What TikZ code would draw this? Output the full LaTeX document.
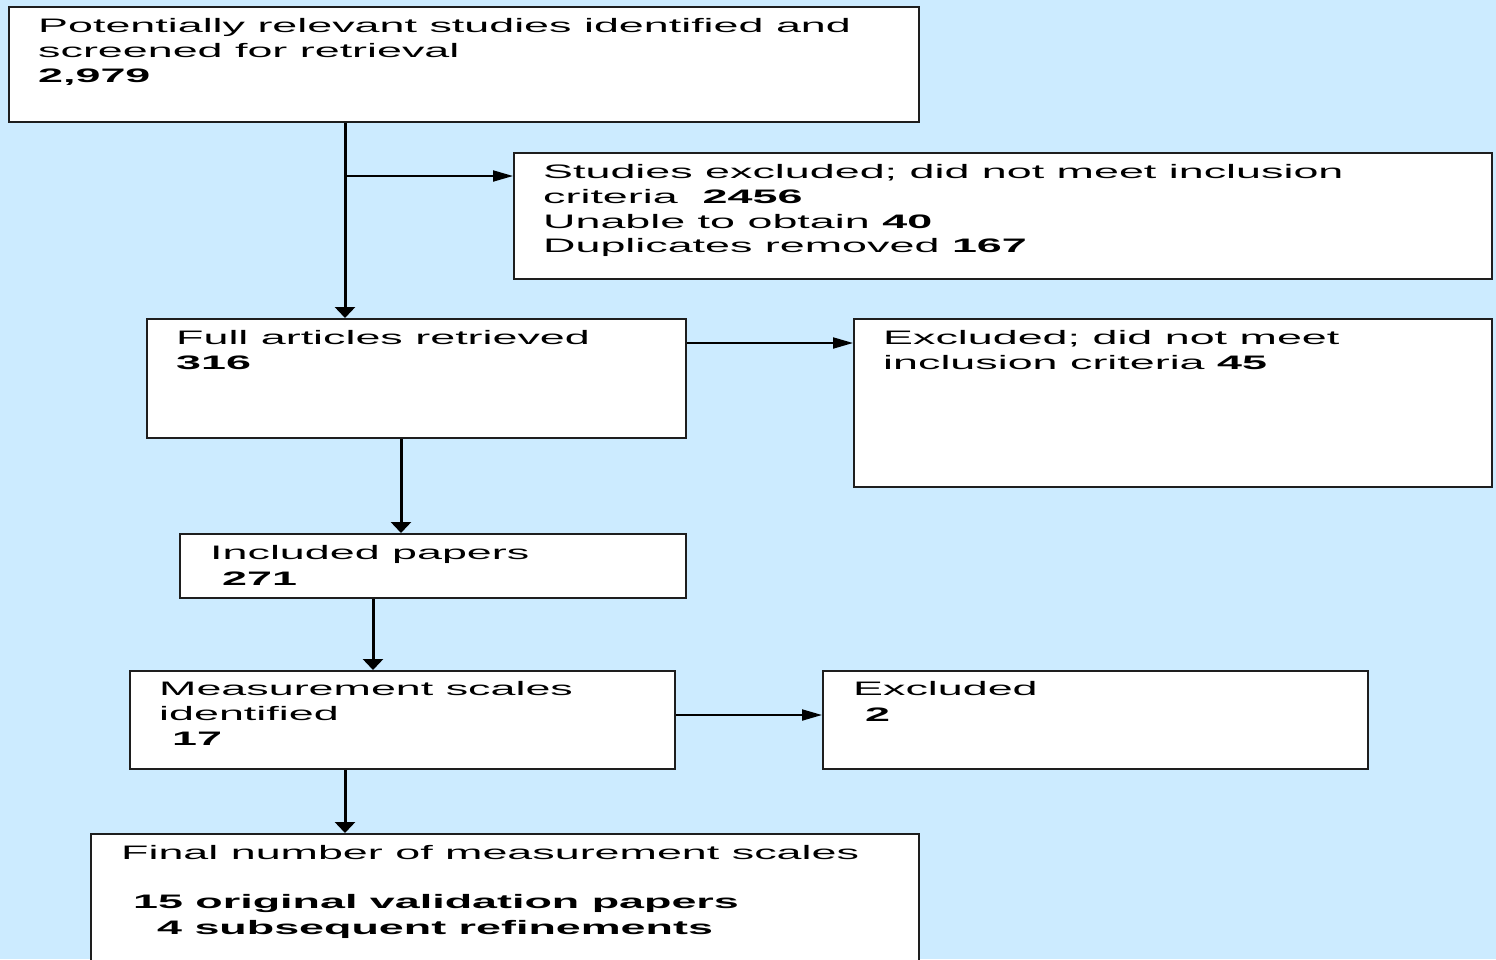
\documentclass[tikz,border=0pt]{standalone}
\usepackage{fontspec}
\setmainfont{Liberation Sans}[FakeStretch=2.3]
\usetikzlibrary{arrows.meta}
\definecolor{bgblue}{RGB}{204,235,255}
\definecolor{edge}{RGB}{30,30,30}
\tikzset{
  x=1pt, y=-1pt,
  box/.style={draw=edge, fill=white, line width=2pt, anchor=north west, inner sep=0pt},
  txt/.style={anchor=base west, inner sep=0pt, font=\fontsize{19.5}{25}\selectfont},
  vline/.style={line width=3pt, -{Triangle[length=11pt,width=20pt]}},
  hline/.style={line width=2pt, -{Triangle[length=20pt,width=11pt]}},
}
\begin{document}
\begin{tikzpicture}
\useasboundingbox (0,0) rectangle (1496,959);
\clip (0,0) rectangle (1496,959);
\fill[bgblue] (0,0) rectangle (1496,959);

% boxes
\node[box, minimum width=910pt, minimum height=115pt] (a) at (8,6) {};
\node[box, minimum width=978pt, minimum height=126pt] (b) at (513,152) {};
\node[box, minimum width=539pt, minimum height=119pt] (c) at (146,318) {};
\node[box, minimum width=638pt, minimum height=168pt] (d) at (853,318) {};
\node[box, minimum width=506pt, minimum height=64pt] (e) at (179,533) {};
\node[box, minimum width=545pt, minimum height=98pt] (f) at (129,670) {};
\node[box, minimum width=545pt, minimum height=98pt] (g) at (822,670) {};
\node[box, minimum width=828pt, minimum height=150pt] (h) at (90,833) {};

% texts
\node[txt] (a1) at (38,32) {Potentially relevant studies identified and};
\node[txt] (a2) at (38,57) {screened for retrieval};
\node[txt] (a3) at (38,82) {\bfseries 2,979};

\node[txt] (b1) at (543,178) {Studies excluded; did not meet inclusion};
\node[txt] (b2) at (543,203) {criteria\ \ \textbf{2456}};
\node[txt] (b3) at (543,228) {Unable to obtain \textbf{40}};
\node[txt] (b4) at (543,252) {Duplicates removed \textbf{167}};

\node[txt] (c1) at (176,344) {Full articles retrieved};
\node[txt] (c2) at (176,369) {\bfseries 316};

\node[txt] (d1) at (883,344) {Excluded; did not meet};
\node[txt] (d2) at (883,369) {inclusion criteria \textbf{45}};

\node[txt] (e1) at (210,559) {Included papers};
\node[txt] (e2) at (222,585) {\bfseries 271};

\node[txt] (f1) at (159,695) {Measurement scales};
\node[txt] (f2) at (159,720) {identified};
\node[txt] (f3) at (172,745) {\bfseries 17};

\node[txt] (g1) at (853,695) {Excluded};
\node[txt] (g2) at (865,721) {\bfseries 2};

\node[txt] (h1) at (121,859) {Final number of measurement scales};
\node[txt] (h2) at (133,908) {\bfseries 15 original validation papers};
\node[txt] (h3) at (157,934) {\bfseries 4 subsequent refinements};

% connector helpers
\coordinate (xa) at (345,0);
\coordinate (xc) at (401,0);
\coordinate (xe) at (373,0);
\coordinate (br) at (345,176);
\coordinate (yc) at (0,343);
\coordinate (yf) at (0,715);

% connectors
\draw[vline] (a.south -| xa) -- (c.north -| xa);
\draw[hline] (br) -- (br -| b.west);
\draw[hline] (c.east |- yc) -- (d.west |- yc);
\draw[vline] (c.south -| xc) -- (e.north -| xc);
\draw[vline] (e.south -| xe) -- (f.north -| xe);
\draw[hline] (f.east |- yf) -- (g.west |- yf);
\draw[vline] (f.south -| xa) -- (h.north -| xa);
\end{tikzpicture}
\end{document}
